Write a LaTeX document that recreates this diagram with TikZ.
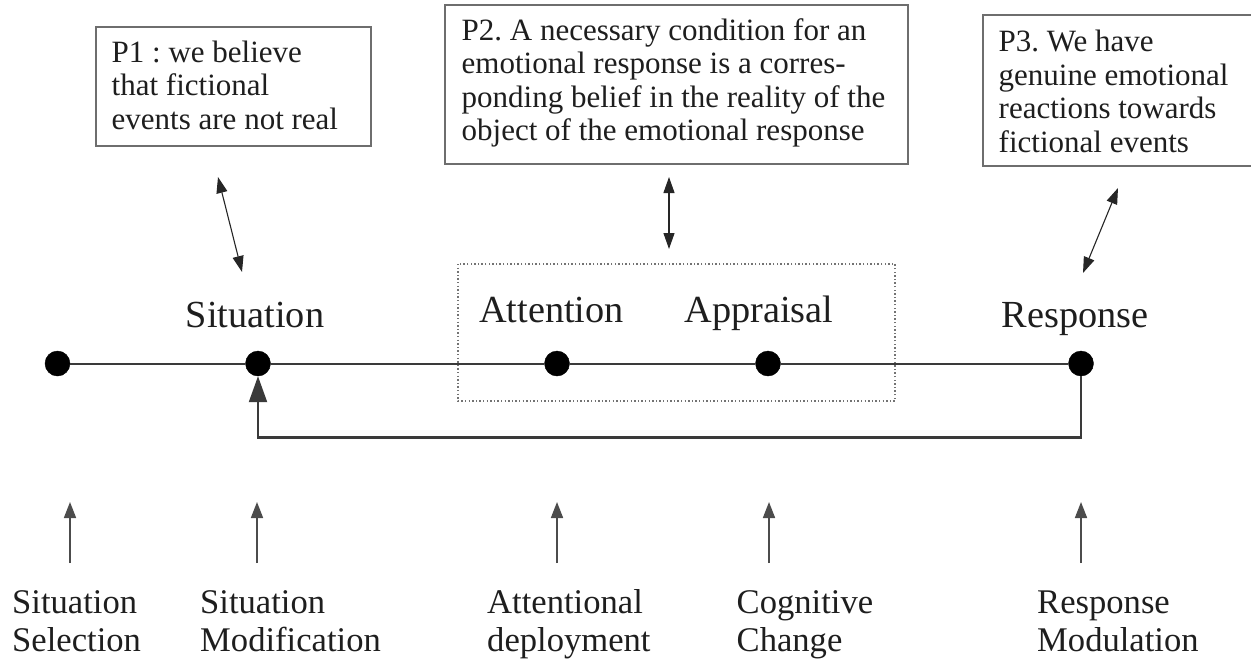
\documentclass[tikz,border=0pt]{standalone}
\usepackage{fontspec}
\setmainfont{Liberation Serif}
\usetikzlibrary{arrows.meta}
\definecolor{txt}{HTML}{1E1E1E}
\definecolor{boxline}{HTML}{6E6E6E}
\definecolor{lineg}{HTML}{3A3A3A}
\frenchspacing
\begin{document}
\begin{tikzpicture}[x=1pt,y=-1pt,
  pbox/.style={draw=boxline,line width=1.8pt,fill=white,inner sep=0pt,anchor=north west},
  ptext/.style={anchor=north west,inner sep=0pt,align=left,text=txt,font=\fontsize{31}{33.5}\selectfont},
  midlab/.style={anchor=base,inner sep=0pt,text=txt,font=\fontsize{38.3}{42}\selectfont},
  botlab/.style={anchor=north west,inner sep=0pt,align=left,text=txt,font=\fontsize{34.6}{38}\selectfont},
  dot/.style={circle,fill=black,draw=black,inner sep=0pt,minimum size=25pt},
  dbl/.style={line width=1.1pt,draw=black!85,{Triangle[length=16pt,width=11pt]}-{Triangle[length=16pt,width=11pt]}},
  uparr/.style={line width=1.7pt,draw=black!70,-{Triangle[length=16pt,width=12pt]}},
  fb/.style={line width=2.2pt,draw=lineg,-{Triangle[length=26pt,width=18pt]}},
  grp/.style={draw=black!55,line width=1.3pt,dash pattern=on 1.4pt off 2.2pt}
]
\useasboundingbox (0,0) rectangle (1251,662);

% top premise boxes
\node[pbox,minimum width=275pt,minimum height=119pt] (p1) at (95,26) {};
\node[ptext] (p1t) at (111.5,38.5) {\strut P1 : we believe\\that fictional\\events are not real};
\node[pbox,minimum width=463pt,minimum height=159pt] (p2) at (444,4) {};
\node[ptext] (p2t) at (461.5,16.5) {\strut P2. A necessary condition for an\\emotional response is a corres-\\ponding belief in the reality of the\\object of the emotional response};
\node[pbox,minimum width=280pt,minimum height=151pt] (p3) at (982,14) {};
\node[ptext] (p3t) at (998.5,28.3) {\strut P3. We have\\genuine emotional\\reactions towards\\fictional events};

% double arrows
\coordinate (a1) at (218,177);
\coordinate (b1) at (242,272);
\coordinate (a2) at (669,177);
\coordinate (b2) at (669,249);
\coordinate (a3) at (1118,188);
\coordinate (b3) at (1083,273);
\draw[dbl] (a1) -- (b1);
\draw[dbl] (a2) -- (b2);
\draw[dbl] (a3) -- (b3);

% dotted group box
\draw[grp] (458,264) rectangle (895,401);

% stage labels
\node[midlab] (lsit) at (255,327) {Situation};
\node[midlab] (latt) at (551.5,322) {Attention};
\node[midlab] (lapp) at (759,322) {Appraisal};
\node[midlab] (lres) at (1075,327) {Response};

% timeline
\node[dot] (d1) at (57.5,363.5) {};
\node[dot] (d2) at (258,363.5) {};
\node[dot] (d3) at (557,363.5) {};
\node[dot] (d4) at (768,363.5) {};
\node[dot] (d5) at (1081,363.5) {};
\draw[line width=2pt,draw=lineg] (d1) -- (d2) -- (d3) -- (d4) -- (d5);

% feedback loop
\draw[fb] (d5.south) -- (d5.south |- 0,437.5) -| (d2.south);

% bottom arrows
\coordinate (u1a) at (70,563);   \coordinate (u1b) at (70,502);
\coordinate (u2a) at (257,563);  \coordinate (u2b) at (257,502);
\coordinate (u3a) at (557,563);  \coordinate (u3b) at (557,502);
\coordinate (u4a) at (769,563);  \coordinate (u4b) at (769,502);
\coordinate (u5a) at (1081,563); \coordinate (u5b) at (1081,502);
\draw[uparr] (u1a) -- (u1b);
\draw[uparr] (u2a) -- (u2b);
\draw[uparr] (u3a) -- (u3b);
\draw[uparr] (u4a) -- (u4b);
\draw[uparr] (u5a) -- (u5b);

% bottom labels
\node[botlab] (s1) at (12,586.4) {\strut Situation\\Selection};
\node[botlab] (s2) at (200,586.4) {\strut Situation\\Modification};
\node[botlab] (s3) at (487,586.4) {\strut Attentional\\deployment};
\node[botlab] (s4) at (736.5,586.4) {\strut Cognitive\\Change};
\node[botlab] (s5) at (1037,586.4) {\strut Response\\Modulation};
\end{tikzpicture}
\end{document}
